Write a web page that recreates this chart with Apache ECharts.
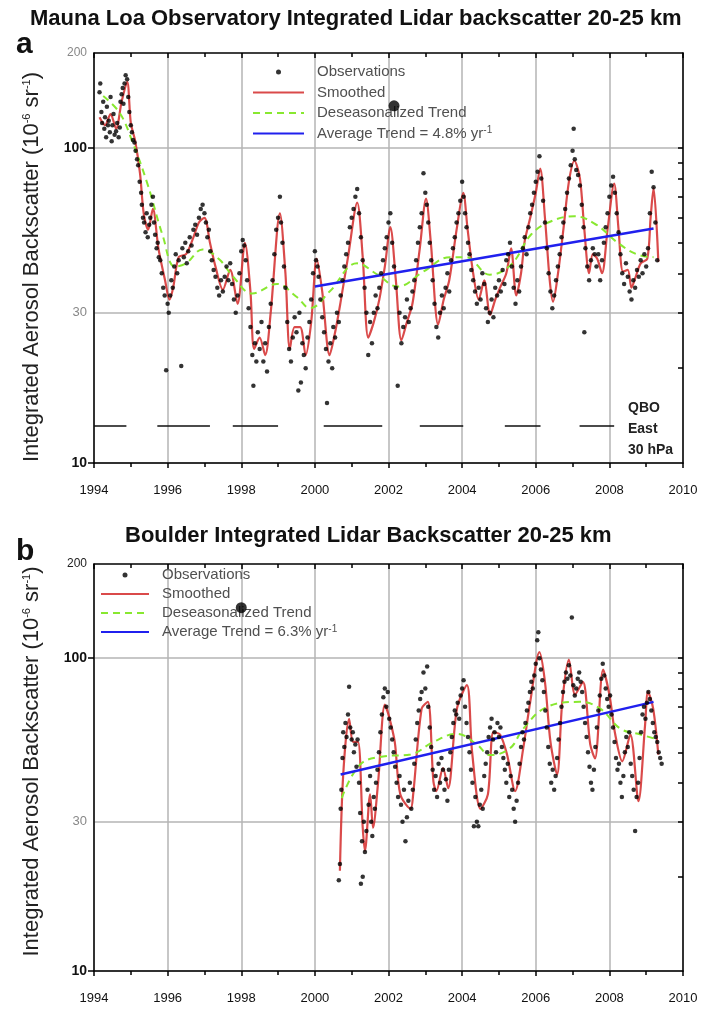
<!DOCTYPE html>
<html>
<head>
<meta charset="utf-8">
<script src="https://cdn.jsdelivr.net/npm/echarts@6/dist/echarts.min.js"></script>
<style>
html, body { margin: 0; background: #fff; }
#main { width: 704px; height: 1012px; }
</style>
</head>
<body>
<div id="main"></div>
<script>
// x tick labels (years) and y tick values
const yearTicks = [1994, 1996, 1998, 2000, 2002, 2004, 2006, 2008, 2010];
const yLabelValues = [10, 30, 100, 200];
const yMinorValues = [20, 30, 40, 50, 60, 70, 80, 90];

// Mauna Loa (panel a)
const obsA = [[1994.15,150],[1994.17,160],[1994.2,130],[1994.22,120],[1994.25,140],[1994.28,115],[1994.3,125],[1994.33,108],[1994.35,135],[1994.38,118],[1994.4,122],[1994.43,112],[1994.45,145],[1994.48,105],[1994.5,118],[1994.53,128],[1994.56,110],[1994.6,113],[1994.63,120],[1994.67,108],[1994.7,116],[1994.72,140],[1994.75,148],[1994.78,155],[1994.8,138],[1994.83,160],[1994.86,170],[1994.9,165],[1994.93,145],[1994.96,130],[1995.0,118],[1995.03,112],[1995.06,106],[1995.1,104],[1995.13,98],[1995.17,92],[1995.2,88],[1995.24,78],[1995.28,72],[1995.3,66],[1995.33,60],[1995.36,58],[1995.4,54],[1995.43,62],[1995.46,52],[1995.5,57],[1995.53,60],[1995.56,66],[1995.6,70],[1995.63,58],[1995.66,53],[1995.7,48],[1995.73,50],[1995.76,45],[1995.8,44],[1995.84,40],[1995.88,36],[1995.92,34],[1995.96,19.7],[1996.0,32],[1996.03,30],[1996.07,34],[1996.1,38],[1996.14,36],[1996.18,42],[1996.22,46],[1996.26,40],[1996.3,44],[1996.37,20.3],[1996.4,48],[1996.44,45],[1996.48,50],[1996.52,43],[1996.56,47],[1996.6,52],[1996.65,49],[1996.7,55],[1996.75,57],[1996.8,53],[1996.85,60],[1996.9,64],[1996.95,66],[1997.0,62],[1997.04,58],[1997.08,52],[1997.12,55],[1997.16,47],[1997.2,44],[1997.25,41],[1997.3,39],[1997.35,36],[1997.4,34],[1997.45,38],[1997.5,35],[1997.55,39],[1997.6,42],[1997.65,38],[1997.7,43],[1997.75,37],[1997.8,33],[1997.85,30],[1997.9,34],[1997.95,40],[1998.0,47],[1998.04,51],[1998.08,49],[1998.12,44],[1998.16,38],[1998.2,31],[1998.25,27],[1998.3,22],[1998.33,17.6],[1998.37,24],[1998.41,21],[1998.45,26],[1998.5,23],[1998.55,28],[1998.6,21],[1998.65,24],[1998.7,19.5],[1998.75,27],[1998.8,32],[1998.85,38],[1998.9,46],[1998.95,55],[1999.0,60],[1999.05,70],[1999.08,58],[1999.12,50],[1999.16,42],[1999.2,36],[1999.25,28],[1999.3,23],[1999.35,21],[1999.4,25],[1999.45,29],[1999.5,26],[1999.55,17],[1999.58,30],[1999.62,18],[1999.66,24],[1999.7,22],[1999.75,20],[1999.8,25],[1999.85,28],[1999.9,33],[1999.95,40],[2000.0,47],[2000.03,44],[2000.07,42],[2000.1,39],[2000.15,33],[2000.2,29],[2000.25,26],[2000.3,23],[2000.33,15.5],[2000.37,21],[2000.42,24],[2000.47,20],[2000.5,27],[2000.55,25],[2000.6,30],[2000.65,28],[2000.7,34],[2000.75,38],[2000.8,42],[2000.85,46],[2000.9,50],[2000.95,56],[2001.0,60],[2001.05,64],[2001.1,70],[2001.15,74],[2001.2,62],[2001.25,52],[2001.3,44],[2001.35,36],[2001.4,30],[2001.45,22],[2001.5,28],[2001.55,24],[2001.6,30],[2001.65,34],[2001.7,31],[2001.75,36],[2001.8,40],[2001.85,44],[2001.9,48],[2001.95,52],[2002.0,58],[2002.05,62],[2002.1,50],[2002.15,42],[2002.2,36],[2002.25,17.6],[2002.3,30],[2002.35,24],[2002.4,27],[2002.45,29],[2002.5,33],[2002.55,28],[2002.6,31],[2002.65,35],[2002.7,38],[2002.75,44],[2002.8,50],[2002.85,56],[2002.9,62],[2002.95,83],[2003.0,72],[2003.04,66],[2003.08,58],[2003.12,50],[2003.16,44],[2003.2,38],[2003.25,32],[2003.3,27],[2003.35,25],[2003.4,30],[2003.45,34],[2003.5,31],[2003.55,36],[2003.6,40],[2003.65,35],[2003.7,44],[2003.75,48],[2003.8,52],[2003.85,58],[2003.9,62],[2003.95,68],[2004.0,78],[2004.04,70],[2004.08,62],[2004.12,56],[2004.16,50],[2004.2,46],[2004.25,41],[2004.3,38],[2004.35,35],[2004.4,32],[2004.45,36],[2004.5,33],[2004.55,40],[2004.6,37],[2004.65,31],[2004.7,28],[2004.75,30],[2004.8,33],[2004.85,29],[2004.9,36],[2004.95,34],[2005.0,38],[2005.05,35],[2005.1,41],[2005.15,37],[2005.2,44],[2005.25,46],[2005.3,50],[2005.35,42],[2005.4,36],[2005.45,32],[2005.5,38],[2005.55,35],[2005.6,42],[2005.65,48],[2005.7,52],[2005.75,46],[2005.8,56],[2005.85,62],[2005.9,66],[2005.95,72],[2006.0,78],[2006.05,84],[2006.1,94],[2006.15,80],[2006.2,68],[2006.25,58],[2006.3,48],[2006.35,40],[2006.4,35],[2006.45,31],[2006.5,34],[2006.55,38],[2006.6,42],[2006.65,46],[2006.7,52],[2006.75,58],[2006.8,64],[2006.85,72],[2006.9,80],[2006.95,88],[2007.0,98],[2007.03,115],[2007.06,92],[2007.1,85],[2007.15,82],[2007.2,76],[2007.25,66],[2007.3,56],[2007.32,26],[2007.35,48],[2007.4,42],[2007.45,38],[2007.5,44],[2007.55,48],[2007.6,46],[2007.65,42],[2007.7,46],[2007.75,38],[2007.8,44],[2007.85,50],[2007.9,56],[2007.95,62],[2008.0,70],[2008.05,76],[2008.1,81],[2008.15,72],[2008.2,62],[2008.25,54],[2008.3,46],[2008.35,40],[2008.4,37],[2008.45,43],[2008.5,39],[2008.55,35],[2008.6,33],[2008.65,38],[2008.7,36],[2008.75,41],[2008.8,39],[2008.85,44],[2008.9,40],[2008.95,46],[2009.0,42],[2009.05,48],[2009.1,62],[2009.15,84],[2009.2,75],[2009.25,58],[2009.3,44]];
const smoothA = [[1994.15,125],[1994.3,118],[1994.45,128],[1994.6,115],[1994.75,140],[1994.9,162],[1995.0,120],[1995.12,105],[1995.25,83],[1995.35,62],[1995.47,55],[1995.6,64],[1995.75,48],[1995.93,38],[1996.05,33],[1996.15,36],[1996.3,45],[1996.5,46],[1996.7,52],[1996.85,58],[1997.0,60],[1997.15,50],[1997.3,42],[1997.5,35.5],[1997.7,41],[1997.9,32],[1998.1,50],[1998.25,35],[1998.35,23],[1998.5,25],[1998.65,22],[1998.8,30],[1999.05,62],[1999.2,40],[1999.32,23],[1999.45,27],[1999.6,27],[1999.75,22],[1999.9,28],[2000.05,44.5],[2000.2,35],[2000.4,22],[2000.55,26],[2000.7,32.5],[2000.9,45],[2001.15,67],[2001.3,45],[2001.45,25],[2001.6,28],[2001.75,33],[2001.9,42],[2002.05,56],[2002.2,38],[2002.35,24.5],[2002.5,28],[2002.65,32],[2002.85,48],[2003.02,69],[2003.15,50],[2003.35,27.5],[2003.5,33],[2003.65,38],[2003.85,55],[2004.03,72],[2004.15,55],[2004.3,40],[2004.45,33],[2004.6,38],[2004.76,29.5],[2004.9,33],[2005.03,36],[2005.2,40],[2005.33,48],[2005.47,34],[2005.6,40],[2005.7,50.6],[2005.85,60],[2006.0,72],[2006.12,86],[2006.25,60],[2006.38,38],[2006.47,32.5],[2006.6,39.6],[2006.75,55],[2006.9,78],[2007.05,91],[2007.2,80],[2007.32,55],[2007.45,40],[2007.55,46],[2007.67,44.5],[2007.8,40],[2007.95,55],[2008.13,77],[2008.25,55],[2008.37,40.5],[2008.5,41],[2008.6,36],[2008.7,38.5],[2008.85,43],[2009.03,44.5],[2009.12,60],[2009.2,74.5],[2009.33,43.5]];
const trendA = [[1994.25,146],[1994.7,129],[1995.05,104],[1995.45,77],[1995.87,52.5],[1996.2,42],[1996.5,43],[1996.95,47.6],[1997.4,44.3],[1997.78,39],[1998.3,34.5],[1998.97,37],[1999.5,33.7],[1999.87,31],[2000.4,35],[2001.15,43],[2001.7,39.6],[2002.25,36.3],[2002.95,40.5],[2003.67,45],[2004.1,45],[2004.75,39.6],[2005.33,42.6],[2005.88,53.2],[2006.42,58.5],[2007.05,60.7],[2007.65,57],[2008.18,50.5],[2008.73,46],[2009.2,45]];
const avgA = [[2000.0,36.3],[2009.2,55.5]];
const qboStart = [1994.0, 1995.72, 1997.77, 2000.24, 2002.85, 2005.16, 2007.19];
const qboEnd = [1994.88, 1997.15, 1999.0, 2001.83, 2004.03, 2006.13, 2008.13];
const qboLevel = 13.1;
const blotA = [[2002.15, 136]];

// Boulder (panel b)
const obsB = [[2000.65,19.5],[2000.68,22],[2000.7,33],[2000.72,38],[2000.75,48],[2000.77,58],[2000.8,52],[2000.83,62],[2000.86,56],[2000.9,66],[2000.93,81],[2000.96,60],[2001.0,55],[2001.03,58],[2001.06,50],[2001.1,53],[2001.13,45],[2001.16,55],[2001.2,40],[2001.23,32],[2001.25,19],[2001.28,26],[2001.3,20],[2001.33,30],[2001.36,24],[2001.4,28],[2001.43,38],[2001.46,34],[2001.5,42],[2001.53,30],[2001.56,27],[2001.6,36],[2001.63,33],[2001.66,40],[2001.7,44],[2001.74,50],[2001.78,58],[2001.82,66],[2001.86,75],[2001.9,80],[2001.94,70],[2001.98,78],[2002.02,64],[2002.06,60],[2002.1,55],[2002.14,50],[2002.18,45],[2002.22,40],[2002.26,36],[2002.3,42],[2002.34,34],[2002.38,30],[2002.42,38],[2002.46,26],[2002.5,31],[2002.54,35],[2002.58,40],[2002.62,33],[2002.66,38],[2002.7,46],[2002.74,55],[2002.78,62],[2002.82,68],[2002.86,74],[2002.9,78],[2002.95,90],[2003.0,80],[2003.05,94],[2003.08,70],[2003.12,60],[2003.16,52],[2003.2,44],[2003.24,38],[2003.28,42],[2003.32,36],[2003.36,46],[2003.4,40],[2003.44,48],[2003.48,44],[2003.52,38],[2003.56,41],[2003.6,35],[2003.64,44],[2003.68,50],[2003.72,56],[2003.76,62],[2003.8,68],[2003.84,66],[2003.88,72],[2003.92,64],[2003.96,76],[2004.0,80],[2004.04,85],[2004.08,70],[2004.12,62],[2004.16,56],[2004.2,50],[2004.24,44],[2004.28,40],[2004.32,29],[2004.36,36],[2004.4,30],[2004.44,29],[2004.48,34],[2004.52,38],[2004.56,33],[2004.6,42],[2004.64,46],[2004.68,50],[2004.72,56],[2004.76,60],[2004.8,64],[2004.84,55],[2004.88,58],[2004.92,50],[2004.96,62],[2005.0,56],[2005.04,60],[2005.08,52],[2005.12,48],[2005.16,44],[2005.2,40],[2005.24,46],[2005.28,36],[2005.32,42],[2005.36,38],[2005.4,33],[2005.44,30],[2005.48,35],[2005.52,40],[2005.56,46],[2005.6,52],[2005.64,58],[2005.68,55],[2005.72,62],[2005.76,68],[2005.8,72],[2005.84,78],[2005.88,84],[2005.92,80],[2005.96,88],[2006.0,96],[2006.04,114],[2006.07,121],[2006.1,100],[2006.14,92],[2006.18,85],[2006.22,78],[2006.26,68],[2006.3,60],[2006.34,52],[2006.38,46],[2006.42,40],[2006.46,44],[2006.5,38],[2006.54,42],[2006.58,48],[2006.62,55],[2006.66,62],[2006.7,70],[2006.74,78],[2006.78,84],[2006.82,90],[2006.86,86],[2006.9,95],[2006.94,88],[2006.98,135],[2007.02,82],[2007.06,76],[2007.1,80],[2007.14,86],[2007.18,90],[2007.22,84],[2007.26,78],[2007.3,70],[2007.34,62],[2007.38,56],[2007.42,50],[2007.46,45],[2007.5,40],[2007.54,38],[2007.58,44],[2007.62,52],[2007.66,60],[2007.7,68],[2007.74,76],[2007.78,86],[2007.82,96],[2007.86,88],[2007.9,80],[2007.94,74],[2007.98,70],[2008.02,76],[2008.06,66],[2008.1,60],[2008.14,54],[2008.18,48],[2008.22,44],[2008.26,46],[2008.3,40],[2008.34,36],[2008.38,42],[2008.42,50],[2008.46,56],[2008.5,52],[2008.54,58],[2008.58,46],[2008.62,42],[2008.66,38],[2008.7,28],[2008.74,36],[2008.78,40],[2008.82,48],[2008.86,58],[2008.9,66],[2008.94,70],[2008.98,64],[2009.02,72],[2009.06,78],[2009.1,74],[2009.14,68],[2009.18,62],[2009.22,58],[2009.26,56],[2009.3,54],[2009.34,50],[2009.38,48],[2009.42,46]];
const smoothB = [[2000.68,20.9],[2000.77,42.5],[2000.93,64],[2001.04,54],[2001.17,54],[2001.3,28.7],[2001.36,24.2],[2001.5,36.7],[2001.58,28.7],[2001.72,40.4],[2001.9,71],[2002.0,66],[2002.17,54],[2002.32,36.7],[2002.6,33],[2002.67,36.7],[2002.9,69],[2003.07,72.5],[2003.22,40.4],[2003.3,37.6],[2003.48,44.5],[2003.62,38.4],[2003.86,69],[2004.13,82],[2004.27,50.3],[2004.5,33],[2004.7,36.7],[2004.85,58],[2005.03,57],[2005.22,49.2],[2005.44,37.6],[2005.66,51.5],[2005.85,72.5],[2006.1,104.5],[2006.25,84],[2006.4,54],[2006.58,42.5],[2006.72,72.5],[2006.9,99],[2007.07,76.5],[2007.28,84],[2007.48,53],[2007.61,47.8],[2007.83,92],[2008.0,76.5],[2008.16,57],[2008.35,46.8],[2008.57,57],[2008.79,34.9],[2008.97,61.2],[2009.05,78],[2009.19,69],[2009.33,49.2]];
const trendB = [[2000.73,35.7],[2001.23,45.7],[2001.85,48.5],[2002.6,49.2],[2003.22,54],[2003.86,57.3],[2004.4,53],[2004.76,49],[2005.3,51.5],[2005.66,59.5],[2006.3,69.8],[2007.2,72.5],[2007.75,69],[2008.3,59.5],[2008.85,57],[2009.3,55]];
const avgB = [[2000.7,42.5],[2009.2,72.5]];
const blotB = [[1998.0, 145]];

const LOG_MIN = 1;
const LOG_MAX = Math.log10(200);
const lg = v => Math.log10(v);
const toLog = arr => arr.map(p => [p[0], lg(p[1])]);

const font = 'Liberation Sans, Arial, sans-serif';
const frame = { lineStyle: { color: '#000', width: 1.5 } };
const gridLine = { show: true, lineStyle: { color: '#b4b4b4', width: 1.5 } };
const supRich = { sup: { fontSize: 11, verticalAlign: 'top', padding: [0, 0, 8, 0] } };

const panels = [
  { top: 53, height: 410, obs: obsA, smooth: smoothA, trend: trendA, avg: avgA, blot: blotA,
    avgName: 'Average Trend = 4.8% yr', topLabelColor: '#888', namePad: [0, 18, 0, 0] },
  { top: 564, height: 407, obs: obsB, smooth: smoothB, trend: trendB, avg: avgB, blot: blotB,
    avgName: 'Average Trend = 6.3% yr', topLabelColor: '#222', namePad: [0, 0, 0, 12] }
];

const grid = [], xAxis = [], yAxis = [], series = [];

panels.forEach((p, i) => {
  grid.push({ left: 94, right: 21, top: p.top, height: p.height });
  // bottom x axis
  xAxis.push({
    type: 'value', gridIndex: i, min: 1994, max: 2010, interval: 2,
    axisLine: frame,
    axisTick: { inside: false, length: 5, lineStyle: { color: '#000', width: 1.5 } },
    minorTick: { show: true, splitNumber: 2, length: 4, lineStyle: { color: '#000', width: 1.5 } },
    splitLine: gridLine,
    axisLabel: { fontFamily: font, fontSize: 13, color: '#111', margin: 21,
      customValues: yearTicks, formatter: v => String(v) }
  });
  // top x axis (frame)
  xAxis.push({
    type: 'value', gridIndex: i, position: 'top', min: 1994, max: 2010, interval: 2,
    axisLine: frame,
    axisTick: { inside: true, length: 5, lineStyle: { color: '#000', width: 1.5 } },
    minorTick: { show: true, splitNumber: 2, length: 4, lineStyle: { color: '#000', width: 1.5 } },
    splitLine: { show: false }, axisLabel: { show: false }
  });
  // left y axis with labels
  yAxis.push({
    type: 'value', gridIndex: i, min: LOG_MIN, max: LOG_MAX,
    axisLine: frame,
    axisTick: { length: 6, customValues: [lg(10), lg(100)], lineStyle: { color: '#000', width: 1.5 } },
    splitLine: gridLine,
    axisLabel: {
      customValues: yLabelValues.map(lg), margin: 7,
      formatter: v => {
        const n = Math.round(Math.pow(10, v));
        if (n === 10 || n === 100) return '{b|' + n + '}';
        if (n === 200) return '{t|' + n + '}';
        return '{g|' + n + '}';
      },
      rich: {
        b: { fontFamily: font, fontSize: 14, fontWeight: 'bold', color: '#111' },
        g: { fontFamily: font, fontSize: 13, color: '#888' },
        t: { fontFamily: font, fontSize: 12, color: p.topLabelColor }
      }
    },
    name: 'Integrated Aerosol Backscatter (10{sup|-6} sr{sup|-1})',
    nameLocation: 'middle', nameGap: 51, nameRotate: 90,
    nameTextStyle: { fontFamily: font, fontSize: 22, color: '#222', padding: p.namePad, rich: supRich }
  });
  // left minor ticks (inside)
  yAxis.push({
    type: 'value', gridIndex: i, min: LOG_MIN, max: LOG_MAX,
    axisLine: { show: false },
    axisTick: { inside: true, length: 5, customValues: yMinorValues.map(lg), lineStyle: { color: '#000', width: 1.5 } },
    splitLine: { show: false }, axisLabel: { show: false }
  });
  // grid line at 30
  yAxis.push({
    type: 'value', gridIndex: i, min: LOG_MIN, max: LOG_MAX,
    axisLine: { show: false },
    axisTick: { show: false, customValues: [lg(30)] },
    splitLine: gridLine, axisLabel: { show: false }
  });
  // right frame
  yAxis.push({
    type: 'value', gridIndex: i, position: 'right', min: LOG_MIN, max: LOG_MAX,
    axisLine: frame,
    axisTick: { inside: true, length: 5, customValues: yMinorValues.concat([100]).map(lg), lineStyle: { color: '#000', width: 1.5 } },
    splitLine: { show: false }, axisLabel: { show: false }
  });

  const xi = i * 2, yi = i * 4;
  series.push({
    name: 'Smoothed', type: 'line', xAxisIndex: xi, yAxisIndex: yi, data: toLog(p.smooth),
    symbol: 'none', smooth: 0.3, z: 3,
    lineStyle: { color: '#d42a2a', width: 2.2, opacity: 0.85 }, itemStyle: { color: '#d42a2a' }
  });
  series.push({
    name: 'Deseasonalized Trend', type: 'line', xAxisIndex: xi, yAxisIndex: yi, data: toLog(p.trend),
    symbol: 'none', smooth: 0.4, z: 4,
    lineStyle: { color: '#88e830', width: 2, type: [7, 5] }, itemStyle: { color: '#88e830' }
  });
  series.push({
    name: p.avgName, type: 'line', xAxisIndex: xi, yAxisIndex: yi, data: toLog(p.avg),
    symbol: 'none', z: 5,
    lineStyle: { color: '#2020ee', width: 2.5 }, itemStyle: { color: '#2020ee' }
  });
  series.push({
    name: 'Observations', type: 'scatter', xAxisIndex: xi, yAxisIndex: yi, data: toLog(p.obs),
    symbolSize: 4.5, z: 6, itemStyle: { color: '#000' }
  });
  series.push({
    type: 'scatter', xAxisIndex: xi, yAxisIndex: yi, data: toLog(p.blot),
    symbolSize: 11, z: 7, itemStyle: { color: '#000' }, silent: true
  });
});

// QBO east phases (panel a)
const qboData = [];
qboStart.forEach((s, k) => {
  qboData.push([s, lg(qboLevel)], [qboEnd[k], lg(qboLevel)], [qboEnd[k], '-']);
});
series.push({
  type: 'line', xAxisIndex: 0, yAxisIndex: 0, data: qboData, symbol: 'none', connectNulls: false,
  lineStyle: { color: '#111', width: 1.5 }, z: 5, silent: true
});

const legendFormatter = name => name.indexOf('Average') === 0 ? name + '{sup|-1}' : name;
const legendText = { fontFamily: font, fontSize: 15, color: '#505050', lineHeight: 16,
  padding: [0, 0, 0, 8], rich: { sup: { fontSize: 10, verticalAlign: 'top', padding: [0, 0, 6, 0] } } };
const legendItems = avgName => [
  'Observations',
  { name: 'Smoothed', itemStyle: { opacity: 0 } },
  { name: 'Deseasonalized Trend', itemStyle: { opacity: 0 } },
  { name: avgName, itemStyle: { opacity: 0 } }
];

const chart = echarts.init(document.getElementById('main'), null, { renderer: 'canvas' });
chart.setOption({
  backgroundColor: '#fff',
  animation: false,
  grid: grid,
  xAxis: xAxis,
  yAxis: yAxis,
  legend: [
    { left: 252, top: 64, padding: 0, orient: 'vertical', itemWidth: 51, itemHeight: 5, itemGap: 4.5,
      data: legendItems('Average Trend = 4.8% yr'),
      formatter: legendFormatter, textStyle: legendText, selectedMode: false },
    { left: 100, top: 567, padding: 0, orient: 'vertical', itemWidth: 48, itemHeight: 5, itemGap: 3,
      data: legendItems('Average Trend = 6.3% yr'),
      formatter: legendFormatter, textStyle: legendText, selectedMode: false }
  ],
  graphic: [
    { type: 'text', left: 30, top: 8, style: { text: 'Mauna Loa Observatory Integrated Lidar backscatter 20-25 km', font: 'bold 22px ' + font, fill: '#111' } },
    { type: 'text', left: 16, top: 30, style: { text: 'a', font: 'bold 30px ' + font, fill: '#111' } },
    { type: 'text', left: 125, top: 525, style: { text: 'Boulder Integrated Lidar Backscatter 20-25 km', font: 'bold 22px ' + font, fill: '#111' } },
    { type: 'text', left: 16, top: 537, style: { text: 'b', font: 'bold 30px ' + font, fill: '#111' } },
    { type: 'text', left: 628, top: 398, style: { text: 'QBO\nEast\n30 hPa', font: 'bold 14px ' + font, fill: '#222', align: 'center', lineHeight: 21, width: 54 } }
  ],
  series: series
});
</script>
</body>
</html>
